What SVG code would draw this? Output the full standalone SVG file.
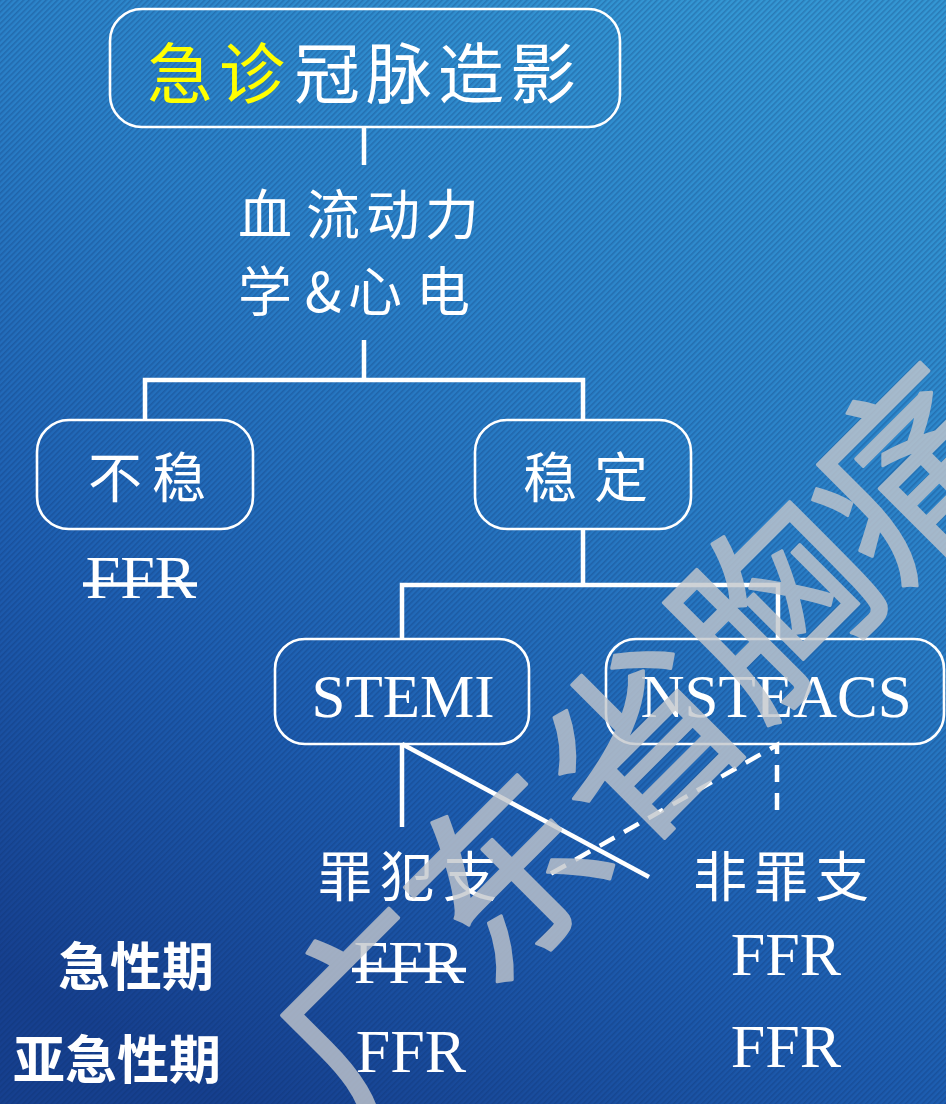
<svg xmlns="http://www.w3.org/2000/svg" width="946" height="1104" viewBox="0 0 946 1104">
<defs>
<linearGradient id="bg" x1="0.75" y1="0" x2="0.25" y2="1">
<stop offset="0" stop-color="#3497d4"/>
<stop offset="0.35" stop-color="#2a80c8"/>
<stop offset="0.7" stop-color="#1d5db0"/>
<stop offset="1" stop-color="#16408f"/>
</linearGradient>
<pattern id="hatch" patternUnits="userSpaceOnUse" width="4" height="4" patternTransform="rotate(45)">
<rect x="0" y="0" width="1.6" height="4" fill="#0a2a60" fill-opacity="0.26"/>
</pattern>
<style>
.box{fill:none;stroke:#ffffff;stroke-width:2.6}
.ln{fill:none;stroke:#ffffff;stroke-width:4.5}
.dash{fill:none;stroke:#ffffff;stroke-width:4.5;stroke-dasharray:17 11}
.cjk{font-family:"Noto Sans CJK SC",sans-serif;fill:#ffffff;text-anchor:middle}
.bold{font-family:"Noto Sans CJK SC",sans-serif;font-weight:bold;fill:#ffffff;text-anchor:middle;font-size:52px}
.lat{font-family:"Liberation Serif",serif;fill:#ffffff;text-anchor:middle}
.wm{font-family:"Noto Sans CJK SC",sans-serif;font-size:190px;fill:#c3c7cd;stroke:#c3c7cd;stroke-width:3;stroke-linejoin:round;text-anchor:middle}
</style>
</defs>
<rect width="946" height="1104" fill="url(#bg)"/>
<rect width="946" height="1104" fill="url(#hatch)"/>

<g id="connectors">
<line class="ln" x1="364" y1="127" x2="364" y2="165"/>
<path class="ln" d="M364 340 V380 M145 420 V380 H583 V420"/>
<path class="ln" d="M583 529 V585 M402 639 V585 H778 V639"/>
<line class="ln" x1="402" y1="744" x2="402" y2="827"/>
<line class="ln" x1="402" y1="744" x2="649" y2="877"/>
<path class="dash" d="M777 810 V745 L545 877"/>
</g>

<g id="node-top">
<rect class="box" x="110" y="9" width="510" height="118" rx="32"/>
<text class="cjk" font-size="66" y="98"><tspan x="180" fill="#ffff00">急</tspan><tspan x="252" fill="#ffff00">诊</tspan><tspan x="327">冠</tspan><tspan x="399">脉</tspan><tspan x="471">造</tspan><tspan x="543">影</tspan></text>
</g>

<g id="node-hemo">
<text class="cjk" font-size="54" y="235" x="265 333 393 452">血流动力</text>
<text class="cjk" font-size="54" y="312" x="265 323 375 443">学&amp;心电</text>
</g>

<g id="node-unstable">
<rect class="box" x="37" y="420" width="216" height="109" rx="32"/>
<text class="cjk" font-size="54" y="498" x="115 179">不稳</text>
<text class="lat" font-size="62" x="141" y="598">FFR</text>
<line class="ln" x1="83" y1="584.5" x2="197" y2="584.5"/>
</g>

<g id="node-stable">
<rect class="box" x="475" y="420" width="216" height="109" rx="32"/>
<text class="cjk" font-size="54" y="498" x="550 621">稳定</text>
</g>

<g id="node-stemi">
<rect class="box" x="275" y="639" width="254" height="105" rx="30"/>
<text class="lat" font-size="61" x="403" y="717">STEMI</text>
</g>

<g id="node-nsteacs">
<rect class="box" x="606" y="639" width="338" height="105" rx="30"/>
<text class="lat" font-size="61" x="776" y="717">NSTEACS</text>
</g>

<g id="node-culprit">
<text class="cjk" font-size="54" y="897" x="345 407 470">罪犯支</text>
</g>

<g id="node-nonculprit">
<text class="cjk" font-size="54" y="897" x="720 781 842">非罪支</text>
</g>

<g id="row-acute">
<text class="bold" x="136" y="986">急性期</text>
<text class="lat" font-size="62" x="409" y="983">FFR</text>
<line class="ln" x1="352" y1="970" x2="466" y2="970"/>
<text class="lat" font-size="62" x="786" y="975">FFR</text>
</g>

<g id="row-subacute">
<text class="bold" x="117" y="1079">亚急性期</text>
<text class="lat" font-size="62" x="411" y="1072">FFR</text>
<text class="lat" font-size="62" x="786" y="1067">FFR</text>
</g>

<g id="watermark" opacity="0.8" transform="translate(371,1009) rotate(-45)">
<text class="wm" y="72" x="0 190 380 570 760">广东省胸痛</text>
</g>
</svg>
